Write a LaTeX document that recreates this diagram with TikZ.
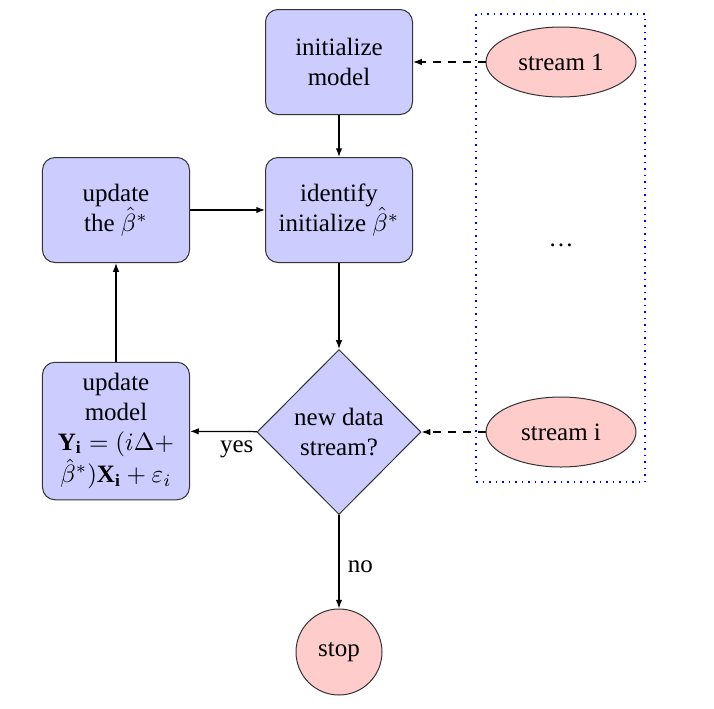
\documentclass[tikz,border=0pt]{standalone}
\usepackage{fontspec}
\setmainfont{Liberation Serif}
\usetikzlibrary{shapes.geometric,arrows.meta}
\begin{document}
\begin{tikzpicture}[x=0.4pt,y=-0.4pt,
  font=\fontsize{10}{12}\selectfont,
  blockbox/.style={rectangle, draw=black!80, line width=0.4pt, fill=blue!20, rounded corners=5pt, align=center, minimum width=58.8pt, minimum height=42pt, inner sep=1pt},
  decisionbox/.style={diamond, draw=black!80, line width=0.4pt, fill=blue!20, align=center, minimum width=65.6pt, minimum height=66pt, inner sep=0pt},
  cloudbox/.style={ellipse, draw=black!80, line width=0.4pt, fill=red!20, minimum width=60pt, minimum height=28pt, inner sep=0pt},
  stopbox/.style={circle, draw=black!80, line width=0.4pt, fill=red!20, minimum size=34.4pt, inner sep=0pt},
  arr/.style={-{Latex[length=3.5pt,width=2.6pt]}, line width=0.5pt},
  darr/.style={arr, dashed}
]
\useasboundingbox (0,0) rectangle (714,708);
\draw[blue, dotted, line width=0.6pt] (476,14) rectangle (645,482);
\node[blockbox] (init) at (339,62) {initialize\\model};
\node[blockbox] (ident) at (339,210) {identify\\initialize $\hat{\beta}^{*}$};
\node[blockbox] (upb) at (116,210) {update\\the $\hat{\beta}^{*}$};
\node[blockbox, minimum height=55pt] (upm) at (116,431) {update\\model\\$\mathbf{Y_i}=(i\Delta+$\\$\hat{\beta}^{*})\mathbf{X_i}+\varepsilon_i$};
\node[decisionbox] (dec) at (339,432) {new data\\stream?};
\node[stopbox] (stop) at (339,652) {stop};
\node[cloudbox] (s1) at (561,62) {stream 1};
\node[cloudbox] (si) at (561,432) {stream i};
\node (dots) at (561,245) {\dots};
\draw[arr] (init) -- (ident);
\draw[arr] (upb) -- (ident);
\draw[arr] (ident) -- (dec);
\draw[arr] (dec) -- node[below, pos=0.3] {yes} (upm);
\draw[arr] (upm) -- (upb);
\draw[arr] (dec) -- node[right, pos=0.55] {no} (stop);
\draw[darr] (s1) -- (init);
\draw[darr] (si) -- (dec);
\end{tikzpicture}
\end{document}
